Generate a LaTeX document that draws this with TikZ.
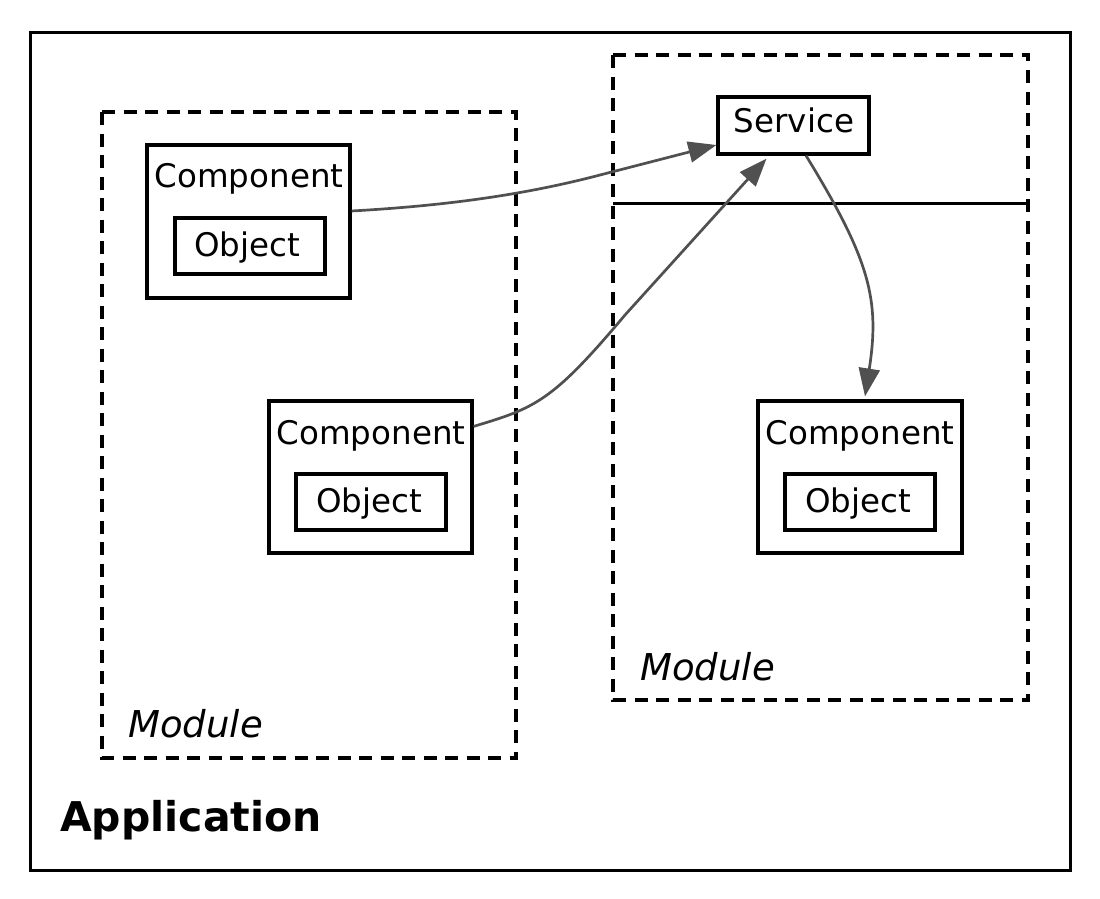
\documentclass[tikz,border=0pt]{standalone}
\usepackage{fontspec}
\setmainfont{DejaVu Sans}
\usetikzlibrary{arrows.meta}
\definecolor{arrowgray}{HTML}{505050}
\begin{document}
\begin{tikzpicture}[x=1pt,y=-1pt,
  box/.style={draw=black,line width=3.2pt,fill=white,inner sep=0pt},
  modbox/.style={draw=black,line width=3.2pt,dash pattern=on 13pt off 8.5pt},
  lbl/.style={inner sep=0pt,font=\fontsize{32.5}{38}\selectfont},
  conn/.style={draw=arrowgray,line width=2.7pt,-{Triangle[length=28pt,width=21pt]}}
]
\useasboundingbox (0,0) rectangle (1100,899);
% Application
\draw[line width=3pt] (30,33) rectangle (1070,870);
\node[anchor=base west,inner sep=0pt,font=\fontsize{41}{48}\selectfont\bfseries] (app) at (60,831) {Application};
% Left module
\draw[modbox] (102,112) rectangle (516,758);
\node[anchor=base west,inner sep=0pt,font=\fontsize{37}{44}\selectfont\itshape] (ml) at (128,737) {Module};
% Right module
\draw[modbox] (613,55) rectangle (1028,700);
\draw[line width=3pt] (613,203) -- (1028,203);
\node[anchor=base west,inner sep=0pt,font=\fontsize{37}{44}\selectfont\itshape] (mr) at (640,680) {Module};
% Service
\node[box,minimum width=151pt,minimum height=57pt] (s) at (793.5,125.5) {};
\node[lbl,anchor=base] (st) at (794,132) {Service};
% Component 1
\node[box,minimum width=203pt,minimum height=153pt] (c1) at (248.5,221.5) {};
\node[lbl,anchor=base] (c1t) at (249,187) {Component};
\node[box,minimum width=150pt,minimum height=56pt] (o1) at (250,246) {};
\node[lbl,anchor=base] (o1t) at (247,256) {Object};
% Component 2
\node[box,minimum width=203pt,minimum height=152pt] (c2) at (370.5,477) {};
\node[lbl,anchor=base] (c2t) at (371,444) {Component};
\node[box,minimum width=150pt,minimum height=56pt] (o2) at (371,502) {};
\node[lbl,anchor=base] (o2t) at (369,512) {Object};
% Component 3
\node[box,minimum width=204pt,minimum height=152pt] (c3) at (860,477) {};
\node[lbl,anchor=base] (c3t) at (860,444) {Component};
\node[box,minimum width=150pt,minimum height=56pt] (o3) at (860,502) {};
\node[lbl,anchor=base] (o3t) at (858,512) {Object};
% Connectors
\draw[conn] ([yshift=10.5pt]c1.east) .. controls (440,206) and (520,196) .. (600,175) -- ([yshift=-19.5pt]s.west);
\draw[conn] ([yshift=-27pt]c2.north east) .. controls (535,408) and (552,402) .. (625,315) -- ([xshift=-27pt,yshift=-3pt]s.south);
\draw[conn] ([xshift=12.5pt]s.south) .. controls (870,260) and (880,300) .. ([xshift=5pt,yshift=3pt]c3.north);
\end{tikzpicture}
\end{document}
